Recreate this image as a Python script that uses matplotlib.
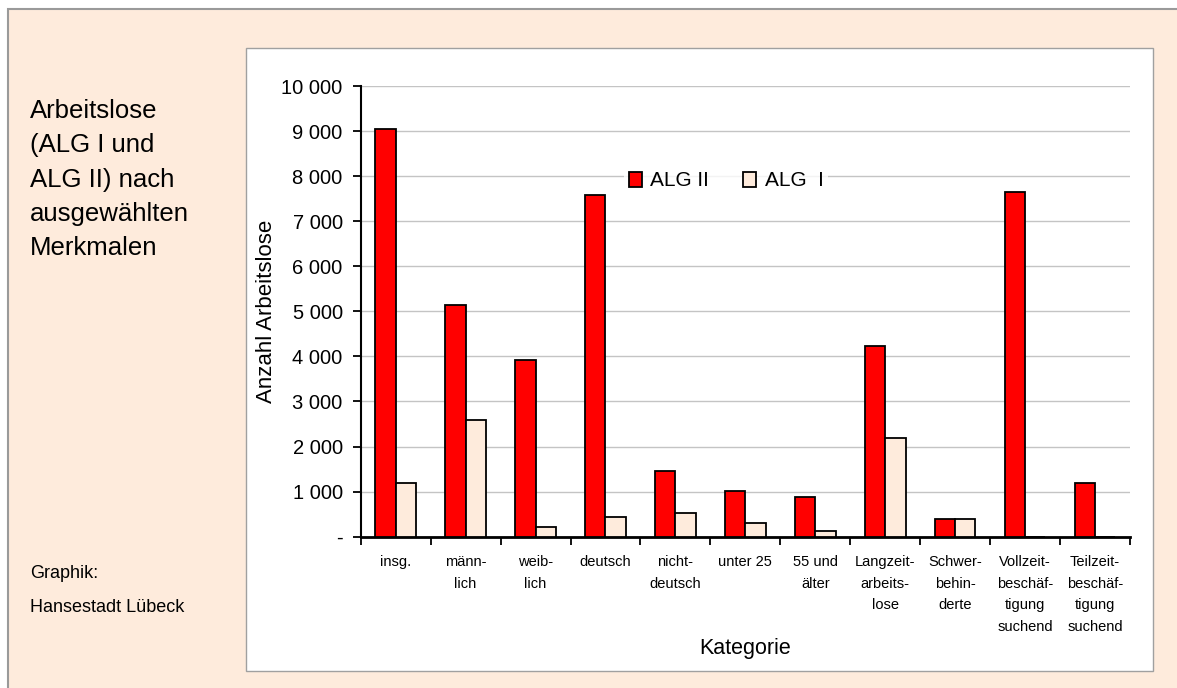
import matplotlib
matplotlib.use("Agg")
import matplotlib.pyplot as plt
from matplotlib.patches import Rectangle
from matplotlib.ticker import FuncFormatter
import numpy as np

plt.rcParams['font.family'] = ['Liberation Sans', 'DejaVu Sans']

categories = ["insg.", "männ-\nlich", "weib-\nlich", "deutsch", "nicht-\ndeutsch",
              "unter 25", "55 und\nälter", "Langzeit-\narbeits-\nlose",
              "Schwer-\nbehin-\nderte", "Vollzeit-\nbeschäf-\ntigung\nsuchend",
              "Teilzeit-\nbeschäf-\ntigung\nsuchend"]
alg2 = [9050, 5130, 3910, 7580, 1460, 1010, 890, 4230, 390, 7650, 1190]
alg1 = [1200, 2580, 220, 440, 530, 300, 130, 2180, 390, 0, 0]
series_names = ["ALG II", "ALG  I"]
yticks = [0, 1000, 2000, 3000, 4000, 5000, 6000, 7000, 8000, 9000, 10000]

W, H = 1177, 688
fig = plt.figure(figsize=(W / 100, H / 100), dpi=100, facecolor="white")

peach = "#FEEBDC"
# outer frame
fig.patches.append(Rectangle((8 / W, -0.05), 1.1, 1 - 9 / H + 0.05, transform=fig.transFigure,
                             facecolor=peach, edgecolor="#9A9A9A", linewidth=1.5, zorder=-3))
# inner white box
fig.patches.append(Rectangle((246 / W, 1 - 671 / H), (1153 - 246) / W, (671 - 48) / H,
                             transform=fig.transFigure, facecolor="white",
                             edgecolor="#A0A0A0", linewidth=1.0, zorder=-2))

ax = fig.add_axes([360.7 / W, 1 - 536.7 / H, (1130 - 360.7) / W, (536.7 - 86) / H])
ax.set_facecolor("none")

x = np.arange(len(categories))
bw = 0.29
ax.bar(x - bw / 2, alg2, width=bw, color="#FF0000", edgecolor="black", linewidth=1.3,
       label=series_names[0], zorder=3)
ax.bar(x + bw / 2, alg1, width=bw, color=peach, edgecolor="black", linewidth=1.3,
       label=series_names[1], zorder=3)

ax.set_xlim(-0.5, len(categories) - 0.5)
ax.set_ylim(0, 10000)
ax.set_yticks(yticks)
ax.yaxis.set_major_formatter(FuncFormatter(
    lambda v, p: "-" if v == 0 else f"{int(v):,}".replace(",", " ")))
ax.tick_params(axis="y", direction="out", length=6, width=1.3, pad=7, labelsize=14.5)
ax.grid(axis="y", color="#C4C4C4", linewidth=1.0, zorder=0)
ax.set_axisbelow(True)

ax.set_xticks(np.arange(len(categories) + 1) - 0.5)
ax.set_xticklabels([])
ax.tick_params(axis="x", which="major", direction="out", length=6, width=1.3)
ax.set_xticks(x, minor=True)
ax.set_xticklabels(categories, minor=True, fontsize=10.5, linespacing=1.71)
ax.tick_params(axis="x", which="minor", length=0, pad=13)

for s in ["top", "right"]:
    ax.spines[s].set_visible(False)
ax.spines["left"].set_linewidth(1.5)
ax.spines["bottom"].set_linewidth(2.0)

ax.set_xlabel("Kategorie", fontsize=15.5, labelpad=3)
ax.set_ylabel("Anzahl Arbeitslose", fontsize=16, labelpad=3)

leg = ax.legend(loc="center", bbox_to_anchor=((726 - 360.7) / (1130 - 360.7), (536.7 - 181) / (536.7 - 86)),
                ncol=2, frameon=True, fontsize=15, handlelength=0.65, handleheight=0.7,
                handletextpad=0.4, columnspacing=1.6, borderpad=0.2, fancybox=False)
leg.get_frame().set_facecolor("white")
leg.get_frame().set_edgecolor("none")
leg.set_zorder(5)

fig.text(30 / W, 1 - 99 / H, "Arbeitslose\n(ALG I und\nALG II) nach\nausgewählten\nMerkmalen",
         fontsize=18.5, va="top", ha="left", linespacing=1.54)
fig.text(30 / W, 1 - 578 / H, "Graphik:", fontsize=13, va="baseline", ha="left")
fig.text(30 / W, 1 - 612 / H, "Hansestadt Lübeck", fontsize=13, va="baseline", ha="left")

fig.savefig("out.png", dpi=100, facecolor="white")
